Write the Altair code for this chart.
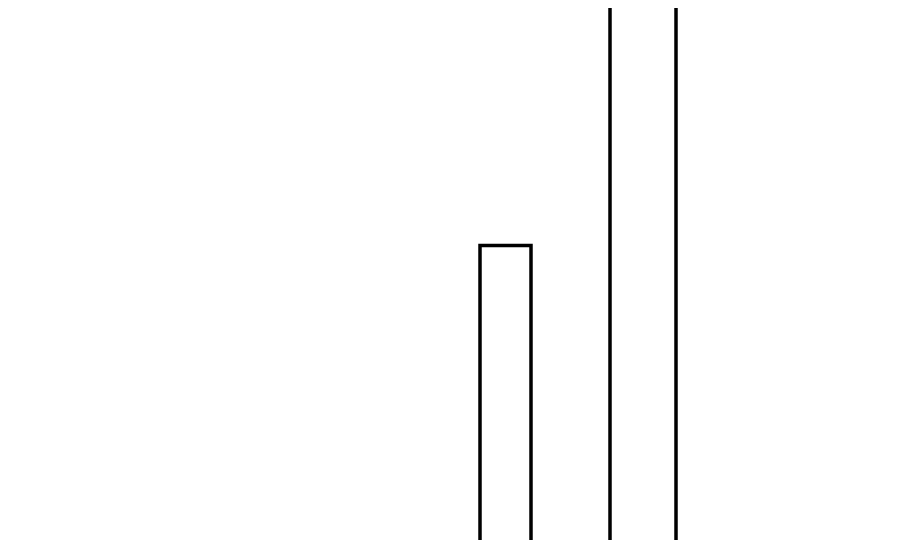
import altair as alt
import pandas as pd

# bin edges and heights of the two visible bars
bin_start = [47.2, 60.2]
bin_end = [52.3, 66.8]
counts = [56.0, 110.0]

df = pd.DataFrame({"start": bin_start, "end": bin_end, "count": counts})

chart = alt.Chart(df).mark_rect(
    fill="white", stroke="black", strokeWidth=3.5, clip=True
).encode(
    x=alt.X("start:Q", scale=alt.Scale(domain=[0, 88.4], nice=False, zero=False), axis=None),
    x2="end:Q",
    y=alt.Y("count:Q", scale=alt.Scale(domain=[0, 100], nice=False), axis=None),
    y2=alt.datum(0),
).properties(
    width=884, height=540, padding=0, autosize=alt.AutoSizeParams(type="none")
).configure_view(stroke=None)

chart.save("out.html", embed_options={"renderer": "svg", "actions": False})
